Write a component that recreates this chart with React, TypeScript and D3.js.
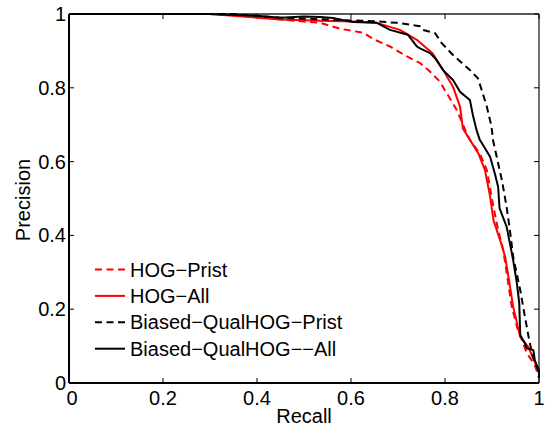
import React from 'react';
import * as d3 from 'd3';

const ticks = [0, 0.2, 0.4, 0.6, 0.8, 1];
const tickLabels = ['0', '0.2', '0.4', '0.6', '0.8', '1'];

const hogPristR = [0, 0.30, 0.40, 0.45, 0.534, 0.577, 0.626, 0.651, 0.683, 0.719, 0.747, 0.768, 0.789, 0.804, 0.825, 0.843, 0.853, 0.874, 0.889, 0.903, 0.913, 0.924, 0.942, 0.953, 0.974, 0.991, 1.0];
const hogPristP = [1, 1, 0.993, 0.985, 0.976, 0.960, 0.949, 0.930, 0.912, 0.885, 0.867, 0.844, 0.817, 0.785, 0.740, 0.686, 0.659, 0.622, 0.577, 0.478, 0.415, 0.360, 0.207, 0.153, 0.081, 0.049, 0.014];

const hogAllR = [0, 0.30, 0.40, 0.45, 0.534, 0.604, 0.655, 0.704, 0.740, 0.774, 0.796, 0.817, 0.832, 0.838, 0.849, 0.871, 0.885, 0.896, 0.903, 0.917, 0.928, 0.935, 0.945, 0.960, 0.977, 0.991, 1.0];
const hogAllP = [1, 1, 0.99, 0.985, 0.982, 0.980, 0.976, 0.957, 0.930, 0.893, 0.848, 0.803, 0.749, 0.690, 0.667, 0.622, 0.577, 0.505, 0.442, 0.388, 0.342, 0.288, 0.207, 0.125, 0.098, 0.058, 0.027];

const bqPristR = [0, 0.35, 0.45, 0.55, 0.655, 0.698, 0.747, 0.753, 0.779, 0.793, 0.817, 0.853, 0.870, 0.878, 0.889, 0.899, 0.902, 0.910, 0.921, 0.931, 0.938, 0.945, 0.960, 0.970, 0.979, 0.987, 0.998, 1.0];
const bqPristP = [1, 1, 0.99, 0.985, 0.980, 0.976, 0.967, 0.957, 0.948, 0.921, 0.889, 0.848, 0.826, 0.794, 0.749, 0.695, 0.659, 0.613, 0.550, 0.478, 0.415, 0.342, 0.252, 0.180, 0.117, 0.071, 0.035, 0.014];

const bqAllR = [0, 0.30, 0.40, 0.45, 0.50, 0.534, 0.562, 0.604, 0.655, 0.683, 0.721, 0.740, 0.747, 0.768, 0.779, 0.796, 0.817, 0.832, 0.853, 0.860, 0.867, 0.874, 0.896, 0.906, 0.913, 0.916, 0.931, 0.938, 0.945, 0.953, 0.958, 0.960, 0.970, 0.974, 0.988, 0.991, 0.995, 1.0, 1.0];
const bqAllP = [1, 1, 0.995, 0.99, 0.993, 0.992, 0.989, 0.978, 0.976, 0.957, 0.944, 0.912, 0.907, 0.894, 0.880, 0.848, 0.821, 0.789, 0.767, 0.722, 0.686, 0.659, 0.613, 0.568, 0.532, 0.474, 0.424, 0.379, 0.333, 0.270, 0.216, 0.130, 0.108, 0.094, 0.089, 0.062, 0.049, 0.035, 0.017];

const seriesNames = ['HOG\u2212Prist', 'HOG\u2212All', 'Biased\u2212QualHOG\u2212Prist', 'Biased\u2212QualHOG\u2212\u2212All'];
const seriesR = [hogPristR, hogAllR, bqPristR, bqAllR];
const seriesP = [hogPristP, hogAllP, bqPristP, bqAllP];
const seriesColor = ['#ff0000', '#ff0000', '#000000', '#000000'];
const seriesDash = [true, false, true, false];

const FONT = '"Liberation Sans", Arial, Helvetica, sans-serif';

export default function App() {
  const x = d3.scaleLinear().domain([0, 1]).range([69, 539]);
  const y = d3.scaleLinear().domain([0, 1]).range([383, 14]);
  const line = d3.line<[number, number]>().x(d => x(d[0])).y(d => y(d[1]));
  const tl = 5;
  return (
    <svg width={546} height={428} style={{ position: 'absolute', left: 0, top: 0, background: '#fff' }} fontFamily={FONT}>
      <rect x={0} y={0} width={546} height={428} fill="#fff" />
      <line x1={x(0)} x2={x(1)} y1={y(1)} y2={y(1)} stroke="#222" strokeWidth={1.3} />
      <line x1={x(1)} x2={x(1)} y1={y(0)} y2={y(1)} stroke="#222" strokeWidth={1.3} />
      {ticks.map((t, i) => (
        <g key={'t' + i}>
          <line x1={x(t)} x2={x(t)} y1={y(0)} y2={y(0) - tl} stroke="#000" strokeWidth={1} />
          <line x1={x(t)} x2={x(t)} y1={y(1)} y2={y(1) + tl} stroke="#000" strokeWidth={1} />
          <line x1={x(0)} x2={x(0) + tl} y1={y(t)} y2={y(t)} stroke="#000" strokeWidth={1} />
          <line x1={x(1)} x2={x(1) - tl} y1={y(t)} y2={y(t)} stroke="#000" strokeWidth={1} />
          <text x={x(t) + (i === 0 ? 3 : 0)} y={405} textAnchor="middle" fontSize={20}>{tickLabels[i]}</text>
          <text x={x(0) - 3} y={y(t) + 7} textAnchor="end" fontSize={20}>{tickLabels[i]}</text>
        </g>
      ))}
      {seriesNames.map((n, i) => {
        const pts: [number, number][] = seriesR[i].map((r, j) => [r, seriesP[i][j]]);
        return (
          <path key={'s' + i} d={line(pts) || ''} fill="none" stroke={seriesColor[i]} strokeWidth={2}
            strokeDasharray={seriesDash[i] ? '7,4.5' : undefined} strokeLinejoin="round" />
        );
      })}
      <line x1={x(0)} x2={x(1)} y1={y(0)} y2={y(0)} stroke="#000" strokeWidth={2} />
      <line x1={x(0)} x2={x(0)} y1={y(0)} y2={y(1)} stroke="#000" strokeWidth={2} />
      {seriesNames.map((n, i) => {
        const ly = 269.5 + i * 26.4;
        return (
          <g key={'l' + i}>
            <line x1={95} x2={125} y1={ly} y2={ly} stroke={seriesColor[i]} strokeWidth={2}
              strokeDasharray={seriesDash[i] ? '7,4.5' : undefined} />
            <text x={130} y={ly + 7} fontSize={20}>{n}</text>
          </g>
        );
      })}
      <text x={(x(0) + x(1)) / 2} y={423} textAnchor="middle" fontSize={20}>Recall</text>
      <text transform={`translate(30,200) rotate(-90)`} textAnchor="middle" fontSize={20}>Precision</text>
    </svg>
  );
}
